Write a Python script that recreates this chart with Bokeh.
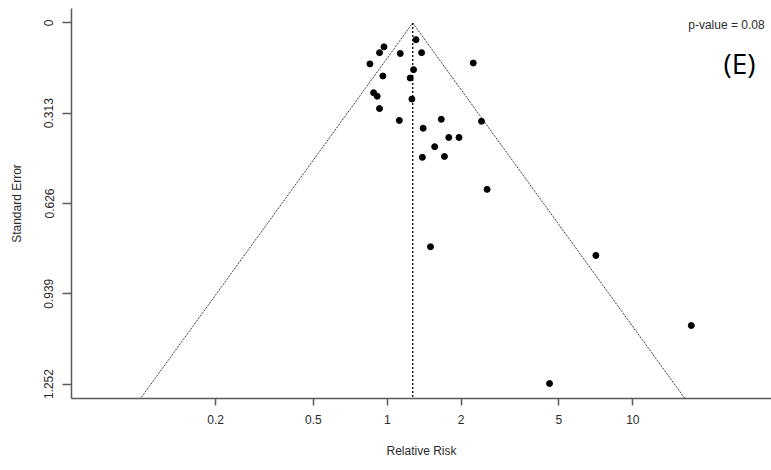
import math
from bokeh.plotting import figure
from bokeh.models import Range1d, FixedTicker, Label
from bokeh.embed import file_html
from bokeh.resources import INLINE

# Study-level relative risks and their standard errors
rr = [1.31, 0.97, 0.93, 1.13, 1.38, 2.24, 0.85, 1.28, 0.96, 1.24,
      0.88, 0.91, 1.26, 0.93, 1.12, 1.66, 2.42, 1.40, 1.78, 1.96,
      1.56, 1.71, 1.39, 2.55, 1.50, 7.07, 17.3, 4.58]
se = [0.058, 0.083, 0.103, 0.106, 0.103, 0.139, 0.142, 0.162, 0.184, 0.191,
      0.242, 0.254, 0.264, 0.297, 0.338, 0.334, 0.341, 0.365, 0.397, 0.397,
      0.429, 0.463, 0.466, 0.577, 0.776, 0.806, 1.049, 1.250]

# Pooled estimate and the funnel's depth
pooled_rr = 1.27
se_max = 1.302
z = 1.96

x_ticks = [0.2, 0.5, 1, 2, 5, 10]
x_tick_labels = ["0.2", "0.5", "1", "2", "5", "10"]
y_ticks = [0, 0.313, 0.626, 0.939, 1.252]
y_tick_labels = ["0", "0.313", "0.626", "0.939", "1.252"]

p_text = "p-value = 0.08"
panel_text = "(E)"

FONT = "Liberation Sans"
AXIS_COLOR = "#5a5a5a"
TEXT_COLOR = "#2a2a2a"

p = figure(width=771, height=470, x_axis_type="log",
           x_range=Range1d(0.0518, 36.7), y_range=Range1d(se_max, -0.05),
           output_backend="svg", toolbar_location=None,
           min_border_left=71, min_border_right=0, min_border_top=8,
           min_border_bottom=72)
p.outline_line_color = None
p.grid.visible = False
p.background_fill_color = "white"
p.border_fill_color = "white"

# Funnel: pseudo 95% limits around the pooled estimate
lc = math.log(pooled_rr)
left_rr = math.exp(lc - z * se_max)
right_rr = math.exp(lc + z * se_max)
p.line([left_rr, pooled_rr, right_rr], [se_max, 0, se_max],
       line_color="black", line_width=1, line_dash="1 1")
p.line([pooled_rr, pooled_rr], [0, se_max],
       line_color="black", line_width=1.3, line_dash="2 2")

# Studies
p.scatter(rr, se, size=6, fill_color="black", line_color="black")

# Axes
for ax in (p.xaxis[0], p.yaxis[0]):
    ax.axis_line_color = AXIS_COLOR
    ax.axis_line_width = 1.5
    ax.major_tick_line_color = AXIS_COLOR
    ax.major_tick_line_width = 1.5
    ax.minor_tick_line_color = None
    ax.major_tick_in = 0
    ax.major_label_text_font = FONT
    ax.major_label_text_font_size = "12px"
    ax.major_label_text_color = TEXT_COLOR
    ax.axis_label_text_font = FONT
    ax.axis_label_text_font_size = "12px"
    ax.axis_label_text_font_style = "normal"
    ax.axis_label_text_color = TEXT_COLOR

xa = p.xaxis[0]
xa.ticker = FixedTicker(ticks=x_ticks)
xa.major_label_overrides = {t: s for t, s in zip(x_ticks, x_tick_labels)}
xa.major_tick_out = 7
xa.major_label_standoff = 9
xa.axis_label = "Relative Risk"
xa.axis_label_standoff = 17

ya = p.yaxis[0]
ya.ticker = FixedTicker(ticks=y_ticks)
ya.major_label_overrides = {t: s for t, s in zip(y_ticks, y_tick_labels)}
ya.major_label_orientation = "vertical"
ya.major_tick_out = 9
ya.major_label_standoff = 9
ya.axis_label = "Standard Error"
ya.axis_label_standoff = 18

# Annotations
p.add_layout(Label(x=34.4, y=0.008, text=p_text, text_align="right",
                   text_baseline="middle", text_font=FONT,
                   text_font_size="12px", text_color=TEXT_COLOR))
p.add_layout(Label(x=27.2, y=0.14, text=panel_text, text_align="center",
                   text_baseline="middle", text_font="Open Sans",
                   text_font_size="28px", text_color="black"))

open("out.html", "w").write(file_html(p, INLINE))
